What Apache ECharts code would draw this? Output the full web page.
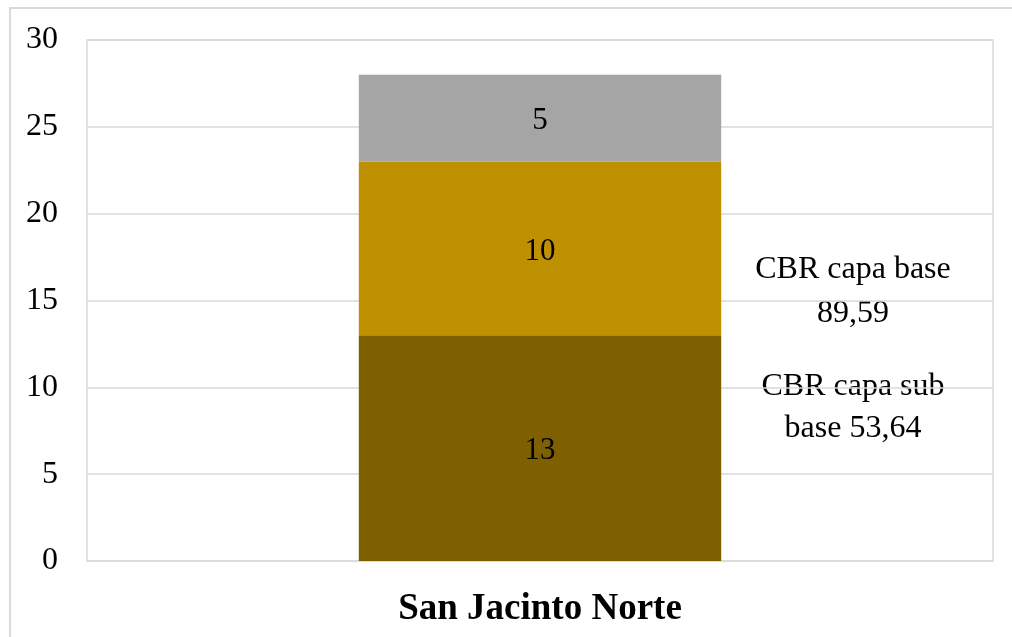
<!DOCTYPE html>
<html>
<head>
<meta charset="utf-8">
<style>
  html, body { margin: 0; padding: 0; background: #ffffff; }
  #chart { width: 1012px; height: 637px; }
</style>
<script src="https://cdn.jsdelivr.net/npm/echarts@6/dist/echarts.min.js"></script>
</head>
<body>
<div id="chart"></div>
<script>
// Layer thicknesses for the pavement section
const categories = ['San Jacinto Norte'];
const subBase = [13];
const base = [10];
const surface = [5];
const yTicks = { min: 0, max: 30, interval: 5 };
const notes = ['CBR capa base\n89,59', 'CBR capa sub\nbase 53,64'];

const FONT = 'Liberation Serif, Times New Roman, serif';
const chart = echarts.init(document.getElementById('chart'), null, { renderer: 'canvas' });

const layerLabel = {
  show: true,
  position: 'inside',
  offset: [0, 3],
  color: '#000000',
  fontFamily: FONT,
  fontSize: 31,
  textBorderWidth: 0
};

function layer(name, data, color) {
  return {
    name: name,
    type: 'bar',
    stack: 'total',
    data: data,
    barWidth: '40%',
    itemStyle: { color: color },
    label: layerLabel,
    emphasis: { disabled: true }
  };
}

chart.setOption({
  animation: false,
  backgroundColor: '#ffffff',
  grid: {
    left: 87, right: 19, top: 40, bottom: 76,
    show: true, borderColor: '#d9d9d9', borderWidth: 1.5,
    containLabel: false
  },
  xAxis: {
    type: 'category',
    data: categories,
    axisLine: { show: false },
    axisTick: { show: false },
    axisLabel: {
      color: '#000000', fontFamily: FONT, fontSize: 37, fontWeight: 'bold', margin: 30
    }
  },
  yAxis: {
    type: 'value',
    min: yTicks.min, max: yTicks.max, interval: yTicks.interval,
    axisLine: { show: false },
    axisTick: { show: false },
    splitLine: { lineStyle: { color: '#d9d9d9', width: 1.5 } },
    axisLabel: { color: '#000000', fontFamily: FONT, fontSize: 32, margin: 29 }
  },
  series: [
    layer('Sub base', subBase, '#7f6000'),
    layer('Base', base, '#bf9000'),
    layer('Carpeta', surface, '#a5a5a5')
  ],
  graphic: [
    {
      type: 'rect', silent: true, z: -1,
      shape: { x: 10, y: 8, width: 1040, height: 680 },
      style: { fill: 'none', stroke: '#d9d9d9', lineWidth: 2 }
    },
    {
      type: 'text', silent: true, x: 853, y: 248,
      style: {
        text: notes[0], fill: '#000000', font: '32px ' + FONT,
        textAlign: 'center', textVerticalAlign: 'top', lineHeight: 44
      }
    },
    {
      type: 'text', silent: true, x: 853, y: 366,
      style: {
        text: notes[1], fill: '#000000', font: '32px ' + FONT,
        textAlign: 'center', textVerticalAlign: 'top', lineHeight: 42
      }
    }
  ]
});
</script>
</body>
</html>
